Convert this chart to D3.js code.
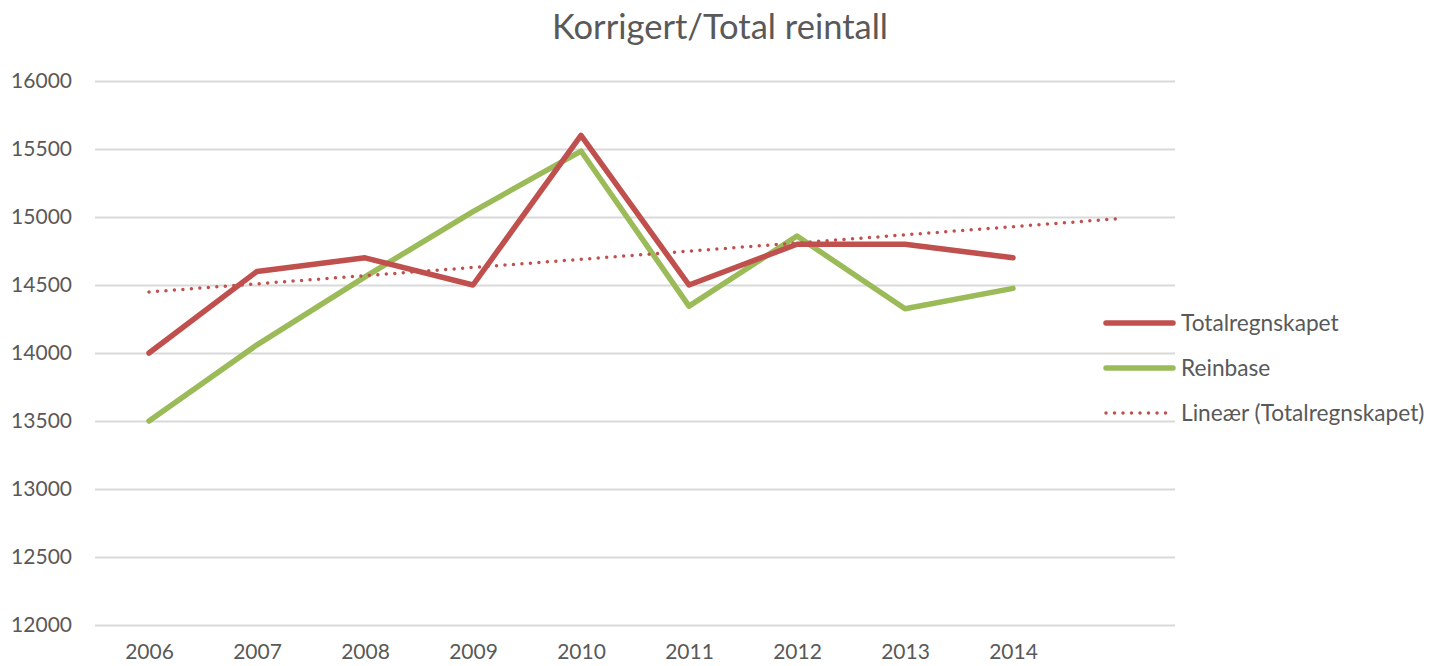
<!DOCTYPE html>
<html><head><meta charset="utf-8">
<script src="https://cdn.jsdelivr.net/npm/d3@7/dist/d3.min.js"></script>
<style>body{margin:0;background:#fff}svg{display:block}text{font-family:Lato,"Liberation Sans",sans-serif;fill:#595959}</style>
</head><body><svg id="c" width="1429" height="666"></svg>
<script>
const years = ["2006","2007","2008","2009","2010","2011","2012","2013","2014"];
const slots = ["2006","2007","2008","2009","2010","2011","2012","2013","2014",""];
const totalregnskapet = [14000,14600,14700,14500,15600,14500,14800,14800,14700];
const reinbase = [13500,14060,14560,15040,15485,14345,14860,14325,14475];
const yTicks = [12000,12500,13000,13500,14000,14500,15000,15500,16000];
const seriesNames = ["Totalregnskapet","Reinbase","Lineær (Totalregnskapet)"];
const title = "Korrigert/Total reintall";

const svg = d3.select("#c");
const L=95,R=1175,T=81,B=625;
const x = d3.scaleBand().domain(d3.range(slots.length)).range([L,R]);
const xc = i => x(i)+x.bandwidth()/2;
const y = d3.scaleLinear().domain([12000,16000]).range([B,T]);
const red="#C0504D", green="#9BBB59";

svg.append("text").attr("x",720).attr("y",39).attr("text-anchor","middle")
  .style("font-size","34.5px").text(title);

const ya = svg.append("g").attr("transform",`translate(${L},0)`)
  .call(d3.axisLeft(y).tickValues(yTicks).tickSize(-(R-L)).tickPadding(23).tickFormat(d3.format("d")));
ya.select(".domain").remove();
ya.selectAll("line").attr("stroke","#D9D9D9").attr("stroke-width",2);
ya.selectAll("text").style("font-size","21px").attr("fill","#595959").style("font-family","Lato");

const xa = svg.append("g").attr("transform",`translate(0,${B})`)
  .call(d3.axisBottom(d3.scalePoint().domain(d3.range(slots.length)).range([xc(0),xc(slots.length-1)]))
    .tickSize(0).tickPadding(19).tickFormat(i=>slots[i]));
xa.select(".domain").remove();
xa.selectAll("text").style("font-size","21px").attr("fill","#595959").style("font-family","Lato");

const line = d3.line().x((d,i)=>xc(i)).y(d=>y(d));
svg.append("path").datum(reinbase).attr("d",line).attr("fill","none")
  .attr("stroke",green).attr("stroke-width",5.5).attr("stroke-linejoin","round").attr("stroke-linecap","round");
svg.append("path").datum(totalregnskapet).attr("d",line).attr("fill","none")
  .attr("stroke",red).attr("stroke-width",5.5).attr("stroke-linejoin","round").attr("stroke-linecap","round");

// Linear trendline (least squares on Totalregnskapet), forecast forward 1 period
const n = totalregnskapet.length;
const xs = d3.range(1,n+1);
const mx = d3.mean(xs), my = d3.mean(totalregnskapet);
const slope = d3.sum(xs,(v,i)=>(v-mx)*(totalregnskapet[i]-my))/d3.sum(xs,v=>(v-mx)*(v-mx));
const icpt = my - slope*mx;
const trend = [0, slots.length-1].map(i=>({i, v: icpt+slope*(i+1)}));
svg.append("path").datum(trend)
  .attr("d",d3.line().x(d=>xc(d.i)).y(d=>y(d.v)))
  .attr("fill","none").attr("stroke",red).attr("stroke-width",3.5)
  .attr("stroke-linecap","round").attr("stroke-dasharray","0,8.5");

// Legend
const lg = svg.append("g");
const ly = [323,368,413];
seriesNames.forEach((nm,k)=>{
  const ln = lg.append("line").attr("x1",1106).attr("x2",1173).attr("y1",ly[k]).attr("y2",ly[k])
    .attr("stroke",k===1?green:red).attr("stroke-linecap","round");
  if(k<2) ln.attr("stroke-width",5.5);
  else ln.attr("stroke-width",3.5).attr("stroke-dasharray","0,8.5").attr("x1",1106).attr("x2",1168);
  lg.append("text").attr("x",1181).attr("y",ly[k]).attr("dy","0.35em").style("font-size","22.7px").text(nm);
});
</script></body></html>
